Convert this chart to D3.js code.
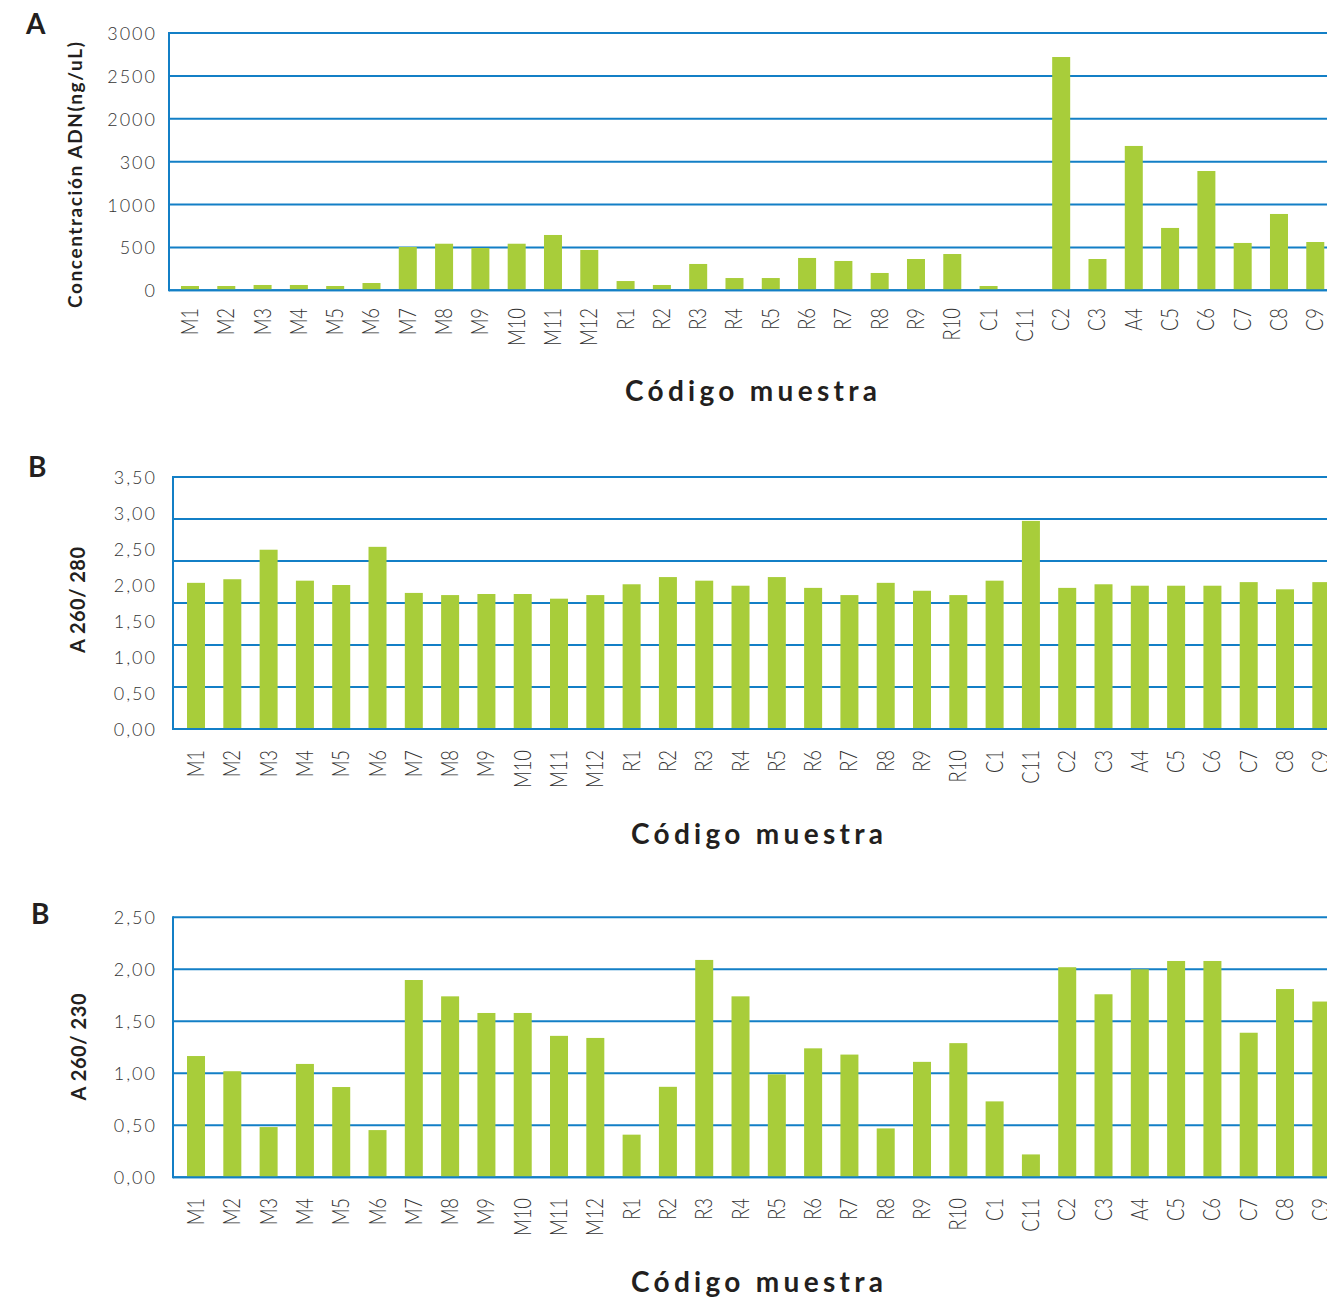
<!DOCTYPE html>
<html>
<head>
<meta charset="utf-8">
<script src="https://cdn.jsdelivr.net/npm/d3@7.9.0/dist/d3.min.js"></script>
<style>
  html, body { margin: 0; padding: 0; background: #fff; overflow: hidden; }
  svg { display: block; }
  .tick-label { font-family: Lato, "Open Sans", sans-serif; font-weight: 300; fill: #333; }
  .title { font-family: Lato, "Open Sans", sans-serif; font-weight: 700; fill: #231f20; }
</style>
</head>
<body>
<svg id="chart" width="1327" height="1299"></svg>
<script>
// sample codes, same order in all three panels
const categories = ["M1","M2","M3","M4","M5","M6","M7","M8","M9","M10","M11","M12",
  "R1","R2","R3","R4","R5","R6","R7","R8","R9","R10",
  "C1","C11","C2","C3","A4","C5","C6","C7","C8","C9"];

// A: concentración ADN (ng/uL)
const concentration = [50,50,62,62,50,85,505,543,493,543,645,470,
  108,62,307,143,143,377,342,202,365,423,
  50,0,2720,365,1683,727,1391,552,890,563];

// B: A 260/280
const ratio280 = [2.03,2.08,2.49,2.06,2.00,2.53,1.89,1.86,1.875,1.875,1.81,1.86,
  2.01,2.11,2.06,1.99,2.11,1.96,1.86,2.03,1.92,1.86,
  2.06,2.89,1.96,2.01,1.99,1.99,1.99,2.04,1.94,2.04];

// B (second): A 260/230
const ratio230 = [1.166,1.02,0.483,1.09,0.868,0.454,1.897,1.74,1.58,1.58,1.36,1.34,
  0.41,0.87,2.09,1.74,0.99,1.24,1.18,0.47,1.11,1.29,
  0.73,0.22,2.02,1.76,2.00,2.08,2.08,1.39,1.81,1.69];

// y tick labels as printed in the figure
const concTicks = [0,500,1000,1500,2000,2500,3000];
const concTickLabels = ["0","500","1000","300","2000","2500","3000"];
const ratio280Ticks = [0,0.5,1,1.5,2,2.5,3,3.5];
const ratio230Ticks = [0,0.5,1,1.5,2,2.5];

const svg = d3.select("#chart");
const W = 1327;
const blue = "#137fc6";
const green = "#a8cd3a";
const comma = d3.format(".2f");
const fmtComma = v => comma(v).replace(".", ",");

function drawPanel(cfg) {
  const g = svg.append("g");
  const step = 36.3, pi = 0.504;
  const x = d3.scaleBand()
    .domain(categories)
    .range([cfg.left, cfg.left + step * (categories.length - pi + 2 * cfg.po)])
    .paddingInner(pi)
    .paddingOuter(cfg.po);
  const y = d3.scaleLinear().domain(cfg.domain).range([cfg.bottom, cfg.top]);

  // grid lines
  g.selectAll(".grid").data(cfg.grid).join("line")
    .attr("x1", cfg.left).attr("x2", W)
    .attr("y1", d => y(d)).attr("y2", d => y(d))
    .attr("stroke", blue).attr("stroke-width", 2);

  // bars
  g.selectAll(".bar").data(cfg.values).join("rect")
    .attr("x", (d, i) => x(categories[i]))
    .attr("width", x.bandwidth())
    .attr("y", d => y(d))
    .attr("height", d => y(0) - y(d))
    .attr("fill", green);

  // left line and baseline
  g.append("line").attr("x1", cfg.left).attr("x2", cfg.left)
    .attr("y1", cfg.top - 1).attr("y2", cfg.bottom + 1)
    .attr("stroke", blue).attr("stroke-width", 2);
  g.append("line").attr("x1", cfg.left).attr("x2", W)
    .attr("y1", y(0)).attr("y2", y(0))
    .attr("stroke", blue).attr("stroke-width", 2);

  // y tick labels
  const yAxis = d3.axisLeft(y).tickValues(cfg.ticks).tickSize(0).tickPadding(0)
    .tickFormat(cfg.tickFormat);
  const ya = g.append("g").attr("transform", `translate(${cfg.labelRight},0)`).call(yAxis);
  ya.select(".domain").remove();
  ya.selectAll("text")
    .attr("class", "tick-label")
    .attr("font-size", 18)
    .attr("letter-spacing", 2)
    .attr("dy", "0.36em")
    .attr("x", 0);

  // category labels
  const xa = g.append("g").attr("transform", `translate(0,${cfg.catTop})`)
    .call(d3.axisBottom(x).tickSize(0));
  xa.select(".domain").remove();
  xa.selectAll(".tick").attr("transform", d => `translate(${x(d) + x.bandwidth() / 2 + 8},0)`);
  xa.selectAll("text")
    .attr("class", "tick-label")
    .attr("font-size", 23)
    .attr("x", 0).attr("y", 0).attr("dy", 0)
    .attr("text-anchor", "end")
    .attr("transform", "rotate(-90) scale(0.8,1)");

  // titles
  g.append("text").attr("class", "title")
    .attr("x", cfg.xTitle[0]).attr("y", cfg.xTitle[1])
    .attr("text-anchor", "middle").attr("font-size", 28)
    .attr("textLength", 252).attr("lengthAdjust", "spacing")
    .text("Código muestra");
  g.append("text").attr("class", "title")
    .attr("transform", `translate(${cfg.yTitle[0]},${cfg.yTitle[1]}) rotate(-90)`)
    .attr("text-anchor", "middle").attr("font-size", cfg.yTitleSize)
    .attr("textLength", cfg.yTitleLen).attr("lengthAdjust", "spacing")
    .text(cfg.yTitleText);
  g.append("text").attr("class", "title")
    .attr("x", cfg.letter[0]).attr("y", cfg.letter[1])
    .attr("font-size", 28)
    .text(cfg.letterText);
}

drawPanel({
  values: concentration, left: 169, po: 0.33, top: 33, bottom: 290.3,
  domain: [0, 3000], grid: concTicks, ticks: concTicks,
  tickFormat: (d, i) => concTickLabels[i], labelRight: 157,
  catTop: 308, xTitle: [751, 401],
  yTitle: [82, 175], yTitleText: "Concentración ADN(ng/uL)", yTitleSize: 19, yTitleLen: 266,
  letter: [26, 34], letterText: "A"
});

drawPanel({
  values: ratio280, left: 173, po: 0.386, top: 477, bottom: 729,
  domain: [0, 3.5], grid: d3.range(0, 7).map(i => i * 3.5 / 6), ticks: ratio280Ticks,
  tickFormat: fmtComma, labelRight: 157,
  catTop: 750, xTitle: [757, 844],
  yTitle: [85, 600], yTitleText: "A 260/ 280", yTitleSize: 20, yTitleLen: 106,
  letter: [28, 477], letterText: "B"
});

drawPanel({
  values: ratio230, left: 173, po: 0.386, top: 917.3, bottom: 1177.3,
  domain: [0, 2.5], grid: ratio230Ticks, ticks: ratio230Ticks,
  tickFormat: fmtComma, labelRight: 157,
  catTop: 1198, xTitle: [757, 1292],
  yTitle: [86, 1047], yTitleText: "A 260/ 230", yTitleSize: 20, yTitleLen: 107,
  letter: [31, 924], letterText: "B"
});
</script>
</body>
</html>
